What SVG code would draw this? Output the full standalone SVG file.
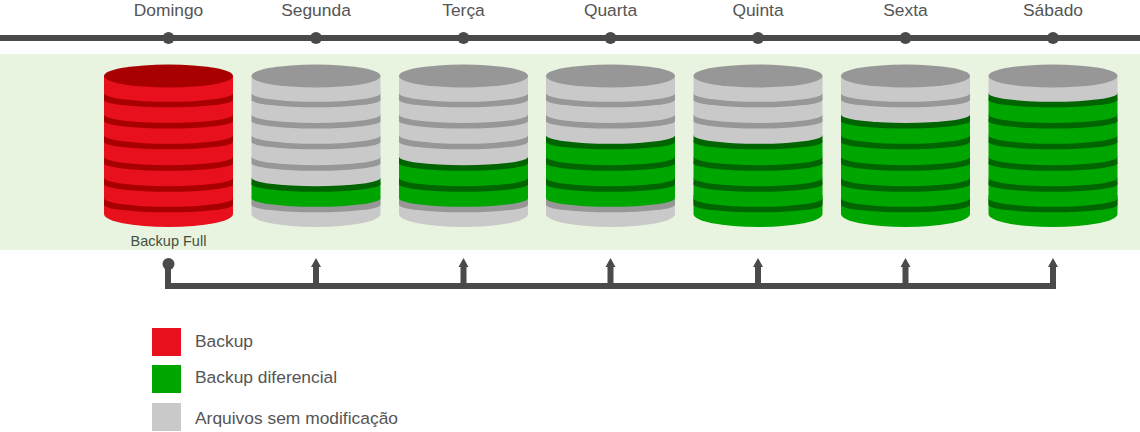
<svg xmlns="http://www.w3.org/2000/svg" width="1140" height="432" viewBox="0 0 1140 432">
<style>
text{font-family:"Liberation Sans",Arial,sans-serif;fill:#555}
.d{font-size:17.4px;text-anchor:middle}
.l{font-size:17.4px}
.rb{fill:#e8101c}.rd{fill:#a80000}
.gb{fill:#00a600}.gd{fill:#006400}
.cb{fill:#c9c9c9}.cd{fill:#979797}
</style>
<defs>
<path id="end" d="M-64.500,195V214A64.500,13 0 0 0 64.500,214V195Z"/>
<path id="band" d="M-64.500,0V6.500A64.500,7.500 0 0 0 64.500,6.500V0Z"/>
<path id="body" d="M-64.500,0V16A64.500,8.500 0 0 0 64.500,16V0Z"/>
<path id="top" d="M-64.500,76V93.300A64.500,8.500 0 0 0 64.500,93.300V76Z"/>
</defs>
<rect width="1140" height="432" fill="#fff"/>
<rect x="0" y="54" width="1140" height="196" fill="#e8f4df"/>
<g id="timeline">
<rect x="0" y="35" width="1140" height="6" fill="#4a4a4a"/>
</g>
<g id="connectors" fill="#4a4a4a">
<rect x="165" y="283" width="891" height="6"/>
<rect x="165" y="268" width="6" height="21"/>
<circle cx="168.500" cy="264" r="6"/>
<path d="M316,258l5,9h-2v20h-6v-20h-2z"/>
<path d="M463.500,258l5,9h-2v20h-6v-20h-2z"/>
<path d="M610.500,258l5,9h-2v20h-6v-20h-2z"/>
<path d="M758,258l5,9h-2v20h-6v-20h-2z"/>
<path d="M905.500,258l5,9h-2v20h-6v-20h-2z"/>
<path d="M1053,258l5,9h-2v20h-6v-20h-2z"/>
</g>
<g id="days" fill="#4a4a4a">
<circle cx="168.500" cy="38" r="6"/><circle cx="316" cy="38" r="6"/><circle cx="463.500" cy="38" r="6"/><circle cx="610.500" cy="38" r="6"/><circle cx="758" cy="38" r="6"/><circle cx="905.500" cy="38" r="6"/><circle cx="1053" cy="38" r="6"/>
</g>
<g class="dl">
<text class="d" x="168.500" y="15.500">Domingo</text>
<text class="d" x="316" y="15.500">Segunda</text>
<text class="d" x="463.500" y="15.500">Terça</text>
<text class="d" x="610.500" y="15.500">Quarta</text>
<text class="d" x="758" y="15.500">Quinta</text>
<text class="d" x="905.500" y="15.500">Sexta</text>
<text class="d" x="1053" y="15.500">Sábado</text>
</g>
<g id="domingo" transform="translate(168.500,0)">
<use href="#end" class="rb"/><use href="#band" y="198.300" class="rd"/>
<use href="#body" y="182.300" class="rb"/><use href="#band" y="177.700" class="rd"/>
<use href="#body" y="161.700" class="rb"/><use href="#band" y="156.700" class="rd"/>
<use href="#body" y="140.700" class="rb"/><use href="#band" y="135.300" class="rd"/>
<use href="#body" y="119.300" class="rb"/><use href="#band" y="114.500" class="rd"/>
<use href="#body" y="98.500" class="rb"/><use href="#band" y="93.300" class="rd"/>
<use href="#top" class="rb"/><ellipse cx="0" cy="76" rx="64.500" ry="11.500" class="rd"/>
</g>
<g id="segunda" transform="translate(316,0)">
<use href="#end" class="cb"/><use href="#band" y="198.300" class="cd"/>
<use href="#body" y="182.300" class="gb"/><use href="#band" y="177.700" class="gd"/>
<use href="#body" y="161.700" class="cb"/><use href="#band" y="156.700" class="cd"/>
<use href="#body" y="140.700" class="cb"/><use href="#band" y="135.300" class="cd"/>
<use href="#body" y="119.300" class="cb"/><use href="#band" y="114.500" class="cd"/>
<use href="#body" y="98.500" class="cb"/><use href="#band" y="93.300" class="cd"/>
<use href="#top" class="cb"/><ellipse cx="0" cy="76" rx="64.500" ry="11.500" class="cd"/>
</g>
<g id="terca" transform="translate(463.500,0)">
<use href="#end" class="cb"/><use href="#band" y="198.300" class="cd"/>
<use href="#body" y="182.300" class="gb"/><use href="#band" y="177.700" class="gd"/>
<use href="#body" y="161.700" class="gb"/><use href="#band" y="156.700" class="gd"/>
<use href="#body" y="140.700" class="cb"/><use href="#band" y="135.300" class="cd"/>
<use href="#body" y="119.300" class="cb"/><use href="#band" y="114.500" class="cd"/>
<use href="#body" y="98.500" class="cb"/><use href="#band" y="93.300" class="cd"/>
<use href="#top" class="cb"/><ellipse cx="0" cy="76" rx="64.500" ry="11.500" class="cd"/>
</g>
<g id="quarta" transform="translate(610.500,0)">
<use href="#end" class="cb"/><use href="#band" y="198.300" class="cd"/>
<use href="#body" y="182.300" class="gb"/><use href="#band" y="177.700" class="gd"/>
<use href="#body" y="161.700" class="gb"/><use href="#band" y="156.700" class="gd"/>
<use href="#body" y="140.700" class="gb"/><use href="#band" y="135.300" class="gd"/>
<use href="#body" y="119.300" class="cb"/><use href="#band" y="114.500" class="cd"/>
<use href="#body" y="98.500" class="cb"/><use href="#band" y="93.300" class="cd"/>
<use href="#top" class="cb"/><ellipse cx="0" cy="76" rx="64.500" ry="11.500" class="cd"/>
</g>
<g id="quinta" transform="translate(758,0)">
<use href="#end" class="gb"/><use href="#band" y="198.300" class="gd"/>
<use href="#body" y="182.300" class="gb"/><use href="#band" y="177.700" class="gd"/>
<use href="#body" y="161.700" class="gb"/><use href="#band" y="156.700" class="gd"/>
<use href="#body" y="140.700" class="gb"/><use href="#band" y="135.300" class="gd"/>
<use href="#body" y="119.300" class="cb"/><use href="#band" y="114.500" class="cd"/>
<use href="#body" y="98.500" class="cb"/><use href="#band" y="93.300" class="cd"/>
<use href="#top" class="cb"/><ellipse cx="0" cy="76" rx="64.500" ry="11.500" class="cd"/>
</g>
<g id="sexta" transform="translate(905.500,0)">
<use href="#end" class="gb"/><use href="#band" y="198.300" class="gd"/>
<use href="#body" y="182.300" class="gb"/><use href="#band" y="177.700" class="gd"/>
<use href="#body" y="161.700" class="gb"/><use href="#band" y="156.700" class="gd"/>
<use href="#body" y="140.700" class="gb"/><use href="#band" y="135.300" class="gd"/>
<use href="#body" y="119.300" class="gb"/><use href="#band" y="114.500" class="gd"/>
<use href="#body" y="98.500" class="cb"/><use href="#band" y="93.300" class="cd"/>
<use href="#top" class="cb"/><ellipse cx="0" cy="76" rx="64.500" ry="11.500" class="cd"/>
</g>
<g id="sabado" transform="translate(1053,0)">
<use href="#end" class="gb"/><use href="#band" y="198.300" class="gd"/>
<use href="#body" y="182.300" class="gb"/><use href="#band" y="177.700" class="gd"/>
<use href="#body" y="161.700" class="gb"/><use href="#band" y="156.700" class="gd"/>
<use href="#body" y="140.700" class="gb"/><use href="#band" y="135.300" class="gd"/>
<use href="#body" y="119.300" class="gb"/><use href="#band" y="114.500" class="gd"/>
<use href="#body" y="98.500" class="gb"/><use href="#band" y="93.300" class="gd"/>
<use href="#top" class="cb"/><ellipse cx="0" cy="76" rx="64.500" ry="11.500" class="cd"/>
</g>
<g id="full"><text x="168.500" y="245.500" font-size="14.500" text-anchor="middle" style="fill:#44503f">Backup Full</text></g>
<g id="legend">
<rect x="152" y="328" width="29" height="28" class="rb"/><text class="l" x="195" y="346.500">Backup</text>
<rect x="152" y="365" width="29" height="28" class="gb"/><text class="l" x="195" y="383">Backup diferencial</text>
<rect x="152" y="403" width="29" height="28" class="cb"/><text class="l" x="195" y="424">Arquivos sem modificação</text>
</g>
</svg>
